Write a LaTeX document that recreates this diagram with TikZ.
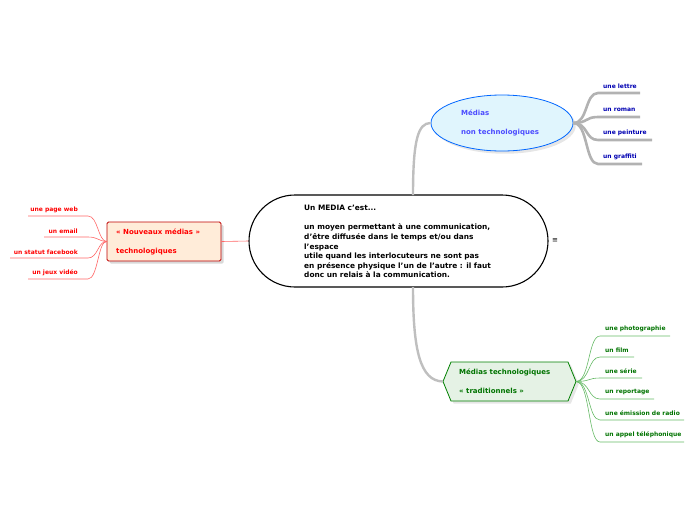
\documentclass[tikz,border=0pt]{standalone}
\usepackage{fontspec}
\setmainfont{DejaVu Sans}
\usetikzlibrary{shapes.geometric,shadows}
\begin{document}
\begin{tikzpicture}[x=1pt,y=-1pt,
  txt/.style={font=\bfseries\fontsize{6}{7}\selectfont,inner sep=0pt},
  blu/.style={txt,text=blue!70!black,anchor=west},
  grn/.style={txt,text=green!45!black,anchor=west},
  rd/.style={txt,text=red,anchor=east},
  gl/.style={gray!60,line width=2.6pt},
  gnl/.style={green!55!black!60,line width=0.6pt},
  rl/.style={red!60,line width=0.6pt}]
\useasboundingbox (0,0) rectangle (696,520);
% central
\node[draw,line width=1.1pt,rounded corners=46pt,minimum width=299pt,minimum height=92pt] (c) at (398.5,241) {};
\node[txt,anchor=north west,align=left,font=\bfseries\fontsize{7.4}{9.6}\selectfont] (ct) at (304,205) {Un MEDIA c'est...\\[9.6pt]un moyen permettant à une communication,\\d'être diffusée dans le temps et/ou dans\\l'espace\\utile quand les interlocuteurs ne sont pas\\en présence physique l'un de l'autre : il faut\\donc un relais à la communication.};
\node[txt,font=\fontsize{7}{7}\selectfont] (eq) at (555,241) {≡};
% ellipse
\node[ellipse,draw=blue!60!cyan,line width=0.8pt,fill=cyan!12,minimum width=142pt,minimum height=56pt,drop shadow={opacity=0.2}] (e) at (502,123) {};
\node[txt,text=blue!70,anchor=west,align=left,font=\bfseries\fontsize{7}{19}\selectfont] (et) at (461,123) {Médias\\non technologiques};
\coordinate (ct1) at (413,195);
\draw[gray!50,line width=2.4pt] (ct1) .. controls (413,140) and (418,123) .. (e.west);
% blue leaves
\foreach \n/\t/\y/\xe in {l1/une lettre/86/640,l2/un roman/110/640,l3/une peinture/133/652,l4/un graffiti/157/642}{
  \node[blu] (\n) at (603,\y) {\t};
  \coordinate (\n e) at (\xe,\y+7);
  \coordinate (\n s) at (598,\y+7);
  \draw[gl] (e.east) .. controls (588,123) and (585,\y+7) .. (\n s) -- (\n e);
}
% left box
\node[draw=red!75!black,line width=0.8pt,fill=orange!15,rounded corners=1.5pt,minimum width=114pt,minimum height=39pt,drop shadow={opacity=0.3}] (r) at (164,241.5) {};
\node[txt,text=red,anchor=west,align=left,font=\bfseries\fontsize{7}{19}\selectfont] (rt) at (116,241.5) {« Nouveaux médias »\\technologiques};
\draw[rl] (c.west) -- (r.east);
\foreach \n/\t/\y/\xs in {a1/une page web/210/28,a2/un email/231/44,a3/un statut facebook/252/10,a4/un jeux vidéo/273/28}{
  \node[rd] (\n) at (78,\y) {\t};
  \coordinate (\n s) at (\xs,\y+6);
  \coordinate (\n e) at (88,\y+6);
  \draw[rl] (r.west) .. controls (98,241) and (98,\y+6) .. (\n e) -- (\n s);
}
% hexagon
\draw[green!50!black,line width=0.8pt,fill=green!50!black!10,drop shadow={opacity=0.2}] (443,381.5) -- (451,362) -- (568,362) -- (576,381.5) -- (568,401) -- (451,401) -- cycle;
\coordinate (h) at (443,381.5);
\coordinate (hr) at (576,381.5);
\node[txt,text=green!45!black,anchor=west,align=left,font=\bfseries\fontsize{7}{19}\selectfont] (ht) at (459,381.5) {Médias technologiques\\« traditionnels »};
\coordinate (cb) at (413,287);
\draw[gray!50,line width=2.4pt] (cb) .. controls (413,350) and (420,381) .. (h);
\foreach \n/\t/\y/\xe in {g1/une photographie/329/670,g2/un film/350/634,g3/une série/371/642,g4/un reportage/392/654,g5/une émission de radio/413/684,g6/un appel téléphonique/435/684}{
  \node[grn] (\n) at (605,\y) {\t};
  \coordinate (\n s) at (600,\y+7);
  \coordinate (\n e) at (\xe,\y+7);
  \draw[gnl] (hr) .. controls (590,381.5) and (588,\y+7) .. (\n s) -- (\n e);
}
\end{tikzpicture}
\end{document}
